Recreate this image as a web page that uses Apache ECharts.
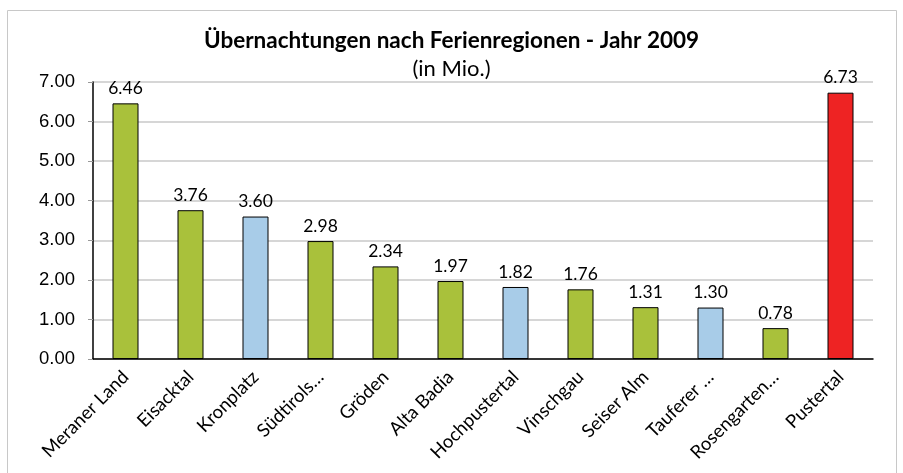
<!DOCTYPE html>
<html lang="de">
<head>
    <meta charset="UTF-8">
    <title>Übernachtungen nach Ferienregionen</title>
    <style>
        *{ margin:0; padding:0; box-sizing:border-box; }
        html, body{ height:100%; width:100%; background:#fff; }
        #myChart{ height:473px; width:903px; }
    </style>
</head>
<body>
<div id="myChart"></div>
<script src="https://cdn.jsdelivr.net/npm/echarts@6/dist/echarts.min.js"></script>
<script>
    var regions = ['Meraner Land', 'Eisacktal', 'Kronplatz', 'Südtirols…', 'Gröden', 'Alta Badia',
        'Hochpustertal', 'Vinschgau', 'Seiser Alm', 'Tauferer …', 'Rosengarten…', 'Pustertal'];
    var nights = [6.46, 3.76, 3.60, 2.98, 2.34, 1.97, 1.82, 1.76, 1.31, 1.30, 0.78, 6.73];
    // g = grün, b = blau, r = rot
    var colorKeys = ['g', 'g', 'b', 'g', 'g', 'g', 'b', 'g', 'g', 'b', 'g', 'r'];
    var palette = { g:'#a9c13b', b:'#a8cce8', r:'#ee2323' };

    var myChart = echarts.init(document.getElementById('myChart'));
    var option = {
        animation:false,
        graphic:[{
            type:'rect',
            shape:{ x:7.5, y:10.5, width:889, height:480 },
            style:{ fill:'none', stroke:'#c8c8c8', lineWidth:1 }
        }],
        title:[{
            text:'Übernachtungen nach Ferienregionen - Jahr 2009',
            left:'center',
            top:24,
            textStyle:{ fontFamily:'Lato', fontWeight:'bold', fontSize:22.5, color:'#000' }
        }, {
            text:'(in Mio.)',
            left:'center',
            top:53,
            textStyle:{ fontFamily:'Lato', fontWeight:'normal', fontSize:22, color:'#000' }
        }],
        grid:{ left:93, right:30, top:82, bottom:114 },
        xAxis:{
            type:'category',
            data:regions,
            axisLine:{ lineStyle:{ color:'#000', width:1.5 } },
            axisTick:{ length:6, lineStyle:{ color:'#999' } },
            axisLabel:{
                rotate:45,
                interval:0,
                fontFamily:'Lato',
                fontSize:18.5,
                color:'#000',
                margin:15
            }
        },
        yAxis:{
            type:'value',
            min:0,
            max:7,
            interval:1,
            axisLine:{ show:true, lineStyle:{ color:'#000', width:1.5 } },
            axisTick:{ show:true, length:5, lineStyle:{ color:'#999' } },
            axisLabel:{
                fontFamily:'Liberation Sans',
                fontSize:18.5,
                color:'#000',
                margin:18,
                formatter:function(v) { return v.toFixed(2); }
            },
            splitLine:{ lineStyle:{ color:'#c8c8c8', width:1.5 } }
        },
        series:[{
            type:'bar',
            barWidth:26,
            data:nights.map(function(v, i) {
                return { value:v, itemStyle:{ color:palette[colorKeys[i]] } };
            }),
            itemStyle:{ borderColor:'#000', borderWidth:1 },
            label:{
                show:true,
                position:'top',
                distance:6,
                fontFamily:'Lato',
                fontSize:17.5,
                color:'#000',
                formatter:function(p) { return p.value.toFixed(2); }
            }
        }]
    };
    myChart.setOption(option);
</script>
</body>
</html>
